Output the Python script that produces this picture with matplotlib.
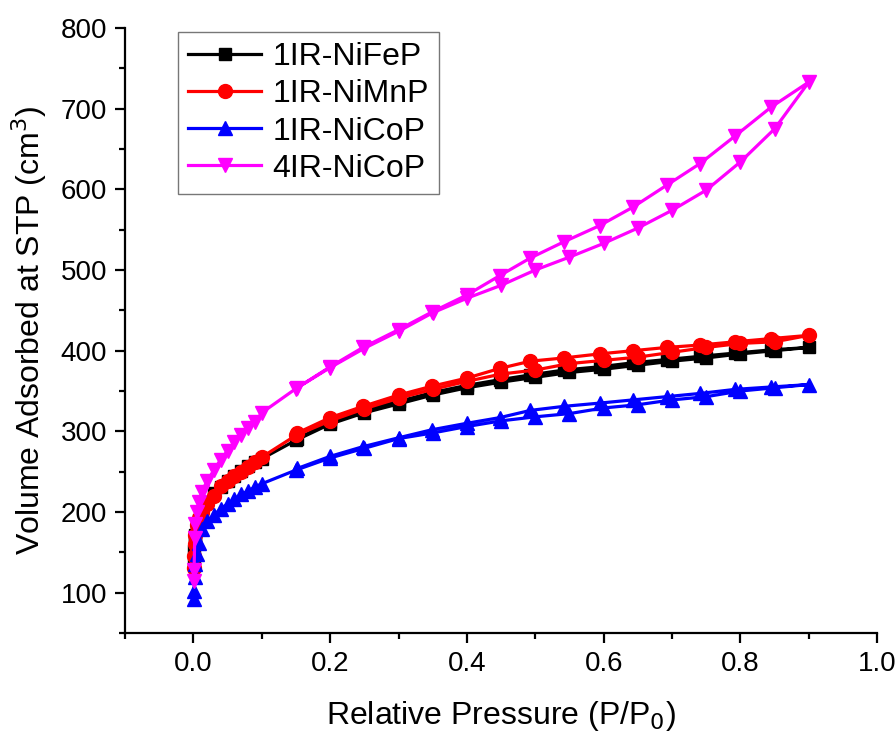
import matplotlib
matplotlib.use("Agg")
import matplotlib.pyplot as plt
from matplotlib.ticker import MultipleLocator

plt.rcParams['font.family'] = ['Liberation Sans', 'DejaVu Sans']

# low pressure points shared by the adsorption branches
p_ads = [0.0005, 0.001, 0.002, 0.003, 0.005, 0.008, 0.012, 0.02, 0.03, 0.04, 0.05,
         0.06, 0.07, 0.08, 0.09, 0.1, 0.15, 0.2, 0.25, 0.3, 0.35, 0.4, 0.45, 0.5,
         0.55, 0.6, 0.65, 0.7, 0.75, 0.8, 0.85, 0.9]
p_des = [0.845, 0.792, 0.741, 0.692, 0.643, 0.594, 0.542, 0.493, 0.448, 0.4,
         0.349, 0.3, 0.248, 0.2, 0.152]

# 1IR-NiFeP
fe_ads = [140, 152, 163, 172, 182, 190, 200, 212, 224, 231, 238, 245, 251, 257, 262, 266,
          289, 309, 323, 334, 345, 354, 361, 367, 373, 377, 382, 387, 391, 396, 400, 404]
fe_des = [401, 397, 393, 389, 385, 380, 376, 370, 364, 357, 348, 337, 326, 311, 291]

# 1IR-NiMnP
mn_ads = [130, 145, 160, 172, 184, 193, 200, 210, 220, 232, 239, 245, 250, 256, 262, 268,
          295, 313, 328, 341, 352, 362, 371, 376, 384, 388, 392, 398, 404, 409, 411, 419]
mn_des = [415, 411, 407, 404, 400, 396, 391, 387, 378, 366, 356, 345, 331, 317, 298]

# 1IR-NiCoP
co1_ads = [92, 102, 120, 135, 148, 162, 179, 189, 196, 204, 210, 216, 222, 226, 231, 235,
           252, 267, 279, 291, 298, 306, 313, 318, 322, 329, 333, 339, 343, 350, 354, 358]
co1_des = [355, 352, 347, 343, 339, 335, 331, 326, 317, 310, 302, 292, 281, 269, 254]

# 4IR-NiCoP
co4_ads = [115, 128, 168, 185, 200, 212, 225, 238, 252, 265, 276, 287, 296, 304, 311, 323,
           353, 379, 403, 424, 447, 465, 481, 500, 516, 533, 552, 574, 599, 634, 675, 733]
co4_des = [702, 666, 632, 605, 578, 555, 535, 515, 493, 469, 448, 426, 404, 380, 354]

series = [
    ('1IR-NiFeP', fe_ads, fe_des, 'black', 's', 8),
    ('1IR-NiMnP', mn_ads, mn_des, 'red', 'o', 10),
    ('1IR-NiCoP', co1_ads, co1_des, 'blue', '^', 10),
    ('4IR-NiCoP', co4_ads, co4_des, '#ff00ff', 'v', 10),
]

fig = plt.figure(figsize=(8.96, 7.33), dpi=100)
ax = fig.add_axes([0.1395, 0.1364, 0.8395, 0.8254])

for name, ads, des, col, mk, ms in series:
    x = p_ads + p_des
    y = ads + des
    ax.plot(x, y, color=col, marker=mk, markersize=ms, linewidth=2.3, label=name)

ax.set_xlim(-0.1, 1.0)
ax.set_ylim(50, 800)
ax.xaxis.set_major_locator(MultipleLocator(0.2))
ax.xaxis.set_minor_locator(MultipleLocator(0.1))
ax.yaxis.set_major_locator(MultipleLocator(100))
ax.yaxis.set_minor_locator(MultipleLocator(50))
ax.set_yticks(range(100, 801, 100))

for s in ['top', 'right']:
    ax.spines[s].set_visible(False)
for s in ['left', 'bottom']:
    ax.spines[s].set_linewidth(1.6)
ax.tick_params(which='major', direction='out', length=7, width=1.6, labelsize=20, pad=6)
ax.tick_params(which='minor', direction='out', length=4, width=1.6)

ax.set_xlabel('Relative Pressure (P/P$_0$)', fontsize=23, labelpad=16)
ax.set_ylabel('Volume Adsorbed at STP (cm$^3$)', fontsize=23, labelpad=8)

leg = ax.legend(loc='upper left', bbox_to_anchor=(0.07, 0.993), fontsize=23,
                frameon=True, fancybox=False, edgecolor='#555555', handlelength=2.3,
                borderpad=0.32, labelspacing=0.22, handletextpad=0.35, borderaxespad=0)
leg.get_frame().set_linewidth(1.0)

fig.savefig('out.png', dpi=100)
